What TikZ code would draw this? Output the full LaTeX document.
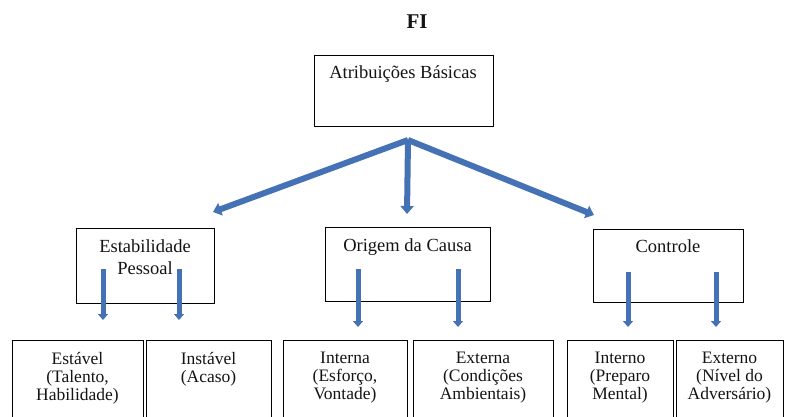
\documentclass[tikz,border=0pt]{standalone}
\usepackage{fontspec}
\setmainfont{Liberation Serif}
\usetikzlibrary{arrows.meta}
\definecolor{arrowblue}{RGB}{68,114,180}
\definecolor{txt}{RGB}{20,20,20}
\begin{document}
\begin{tikzpicture}[x=1pt,y=-1pt,
  box/.style={draw=black,line width=1.3pt,anchor=north west,inner sep=0pt},
  lbl/.style={inner sep=0pt,align=center,text=txt,font=\fontsize{18.5}{18}\selectfont},
  sublbl/.style={inner sep=0pt,align=center,text=txt,font=\fontsize{17.5}{18}\selectfont},
  bigarrow/.style={draw=arrowblue,line width=6pt,-{Triangle[width=13pt,length=8pt]}},
  smallarrow/.style={draw=arrowblue,line width=5pt,-{Triangle[width=10pt,length=6pt]}}]
\useasboundingbox (0,0) rectangle (790,417);
\clip (0,0) rectangle (790,417);
% title
\node[anchor=base,inner sep=0pt,text=txt,font=\fontsize{21}{21}\selectfont\bfseries] (fi) at (417,29) {FI};
% top box
\node[box,minimum width=179pt,minimum height=71pt] (top) at (314,55) {};
\node[lbl,anchor=base] (toptxt) at (403,79) {Atribuições Básicas};
% middle boxes
\node[box,minimum width=138pt,minimum height=75pt] (est) at (76,228) {};
\node[lbl,anchor=north,font=\fontsize{18.5}{22}\selectfont] (esttxt) at (145,239) {Estabilidade\\Pessoal};
\node[box,minimum width=165pt,minimum height=74pt] (ori) at (325,227) {};
\node[lbl,anchor=base] (oritxt) at (407.5,251) {Origem da Causa};
\node[box,minimum width=150pt,minimum height=73pt] (con) at (593,229) {};
\node[lbl,anchor=base] (contxt) at (668,252) {Controle};
% bottom boxes
\node[box,minimum width=131pt,minimum height=90pt] (b1) at (12,340) {};
\node[box,minimum width=125pt,minimum height=90pt] (b2) at (146,340) {};
\node[box,minimum width=124pt,minimum height=90pt] (b3) at (283,340) {};
\node[box,minimum width=140pt,minimum height=90pt] (b4) at (413,340) {};
\node[box,minimum width=106pt,minimum height=90pt] (b5) at (567,340) {};
\node[box,minimum width=107pt,minimum height=90pt] (b6) at (676,340) {};
\node[sublbl,anchor=north] (t1) at (77.5,352) {Estável\\(Talento,\\Habilidade)};
\node[sublbl,anchor=north] (t2) at (208.5,352) {Instável\\(Acaso)};
\node[sublbl,anchor=north] (t3) at (345,352) {Interna\\(Esforço,\\Vontade)};
\node[sublbl,anchor=north] (t4) at (483,352) {Externa\\(Condições\\Ambientais)};
\node[sublbl,anchor=north] (t5) at (620,352) {Interno\\(Preparo\\Mental)};
\node[sublbl,anchor=north] (t6) at (729.5,352) {Externo\\(Nível do\\Adversário)};
% big arrows
\coordinate (apex) at (408,140);
\coordinate (tipL) at (213,212);
\coordinate (tipM) at (407,214);
\coordinate (tipR) at (594,215);
\draw[bigarrow] (apex) -- (tipL);
\draw[bigarrow] (apex) -- (tipM);
\draw[bigarrow] (apex) -- (tipR);
% small arrows
\foreach \n/\x/\ys/\ye in {a1/103/269/320, a2/179/269/320, a3/358/269/327, a4/458/269/327, a5/628/272/327, a6/716/272/327}{
  \coordinate (\n s) at (\x,\ys);
  \coordinate (\n e) at (\x,\ye);
  \draw[smallarrow] (\n s) -- (\n e);
}
\end{tikzpicture}
\end{document}
